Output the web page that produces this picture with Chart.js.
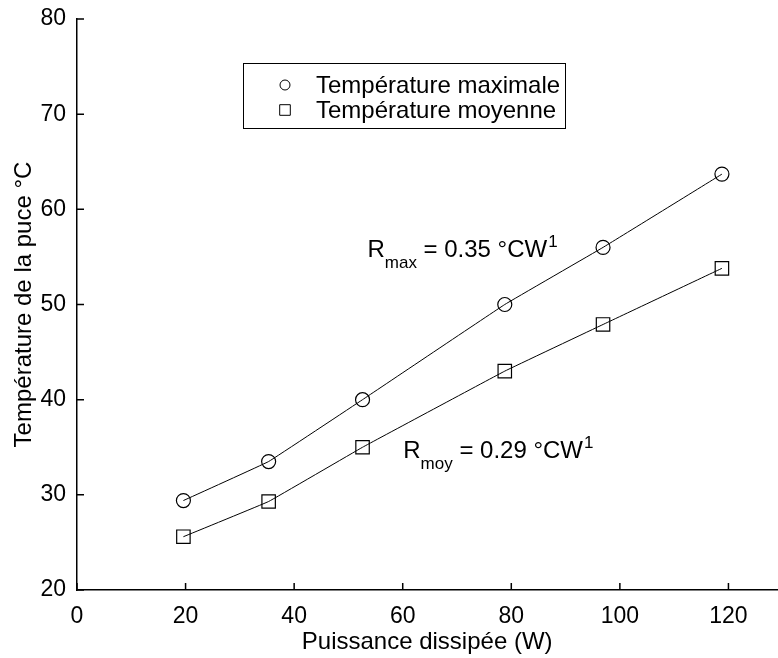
<!DOCTYPE html>
<html>
<head>
<meta charset="utf-8">
<script src="https://cdn.jsdelivr.net/npm/chart.js@4.4.0/dist/chart.umd.min.js"></script>
<style>
  html, body { margin: 0; padding: 0; background: #fff; overflow: hidden; }
  #wrap { width: 778px; height: 658px; overflow: hidden; }
</style>
</head>
<body>
<div id="wrap"><canvas id="chart" width="788" height="658"></canvas></div>
<script>
// ---- data ----
const puissance = [19.6, 35.3, 52.6, 78.8, 96.9, 118.8];
const tempMax   = [29.4, 33.5, 40.0, 50.0, 56.0, 63.7];
const tempMoy   = [25.6, 29.3, 35.0, 43.0, 47.9, 53.8];
const xTicks    = [0, 20, 40, 60, 80, 100, 120];
const yTicks    = [20, 30, 40, 50, 60, 70, 80];
const serieLabels = ['Température maximale', 'Température moyenne'];
const rLabels   = [['max', ' = 0.35 °CW', '1'], ['moy', ' = 0.29 °CW', '1']];

const FONT = "'Liberation Sans', Arial, sans-serif";

function toPoints(xs, ys) { return xs.map((x, i) => ({ x: x, y: ys[i] })); }

// ticks drawn inward, like the original plot
const inwardTicks = {
  id: 'inwardTicks',
  afterDraw(chart) {
    const { ctx, chartArea: a, scales: { x, y } } = chart;
    ctx.save();
    ctx.strokeStyle = '#000';
    ctx.lineWidth = 1.5;
    ctx.beginPath();
    xTicks.forEach(v => { const p = x.getPixelForValue(v); ctx.moveTo(p, a.bottom); ctx.lineTo(p, a.bottom - 7); });
    yTicks.forEach(v => { const p = y.getPixelForValue(v); ctx.moveTo(a.left, p); ctx.lineTo(a.left + 7, p); });
    ctx.stroke();
    ctx.restore();
  }
};

// boxed legend in the upper part of the plot
const boxLegend = {
  id: 'boxLegend',
  afterDraw(chart) {
    const ctx = chart.ctx;
    ctx.save();
    ctx.strokeStyle = '#000';
    ctx.lineWidth = 1;
    ctx.strokeRect(243.5, 63.5, 322, 65);
    ctx.textBaseline = 'middle';
    chart.data.datasets.forEach((ds, i) => {
      const yy = 85 + i * 25;
      ctx.fillStyle = '#fff';
      Chart.helpers.drawPoint(ctx, {
        pointStyle: ds.pointStyle, radius: i === 0 ? 5 : 7.5, borderWidth: 1
      }, 285, yy);
      ctx.font = '24px ' + FONT;
      ctx.fillStyle = '#000';
      ctx.fillText(ds.label, 316, yy + 1);
    });
    ctx.restore();
  }
};

// "R_max = ..." / "R_moy = ..." labels next to the lines
const rAnnot = {
  id: 'rAnnot',
  afterDraw(chart) {
    const { ctx, scales: { x, y } } = chart;
    const spots = [[53.5, 55.0], [60.1, 33.9]];
    ctx.save();
    ctx.fillStyle = '#000';
    ctx.textBaseline = 'alphabetic';
    rLabels.forEach((lab, i) => {
      let px = x.getPixelForValue(spots[i][0]);
      const py = y.getPixelForValue(spots[i][1]);
      ctx.font = '24px ' + FONT;
      ctx.fillText('R', px, py);
      px += ctx.measureText('R').width;
      ctx.font = '17px ' + FONT;
      ctx.fillText(lab[0], px, py + 11);
      px += ctx.measureText(lab[0]).width;
      ctx.font = '24px ' + FONT;
      ctx.fillText(lab[1], px, py);
      px += ctx.measureText(lab[1]).width;
      ctx.font = '17px ' + FONT;
      ctx.fillText(lab[2], px + 1, py - 10);
    });
    ctx.restore();
  }
};

const common = {
  borderColor: '#000',
  borderWidth: 1,
  backgroundColor: 'transparent',
  pointBorderColor: '#000',
  pointBackgroundColor: 'transparent',
  pointBorderWidth: 1.2,
  showLine: true,
  tension: 0.05,
};

new Chart(document.getElementById('chart'), {
  type: 'scatter',
  data: {
    datasets: [
      Object.assign({ label: serieLabels[0], data: toPoints(puissance, tempMax), pointStyle: 'circle', pointRadius: 7 }, common),
      Object.assign({ label: serieLabels[1], data: toPoints(puissance, tempMoy), pointStyle: 'rect', pointRadius: 9.5 }, common),
    ]
  },
  options: {
    responsive: false,
    animation: false,
    devicePixelRatio: 1,
    layout: { padding: { top: 19, right: 1, left: 0, bottom: 0 } },
    plugins: { legend: { display: false }, tooltip: { enabled: false } },
    scales: {
      x: {
        type: 'linear', min: 0, max: 129,
        afterBuildTicks: s => { s.ticks = xTicks.map(v => ({ value: v })); },
        afterFit: s => { s.height = 68; },
        grid: { display: false },
        border: { color: '#000', width: 1.5 },
        ticks: { color: '#000', font: { family: FONT, size: 23 }, padding: 5, maxRotation: 0 },
        title: { display: true, text: 'Puissance dissipée (W)', color: '#000',
                 font: { family: FONT, size: 24 }, padding: { top: 0, bottom: 1 } }
      },
      y: {
        min: 20, max: 80,
        afterBuildTicks: s => { s.ticks = yTicks.map(v => ({ value: v })); },
        afterFit: s => { s.width = 77; },
        grid: { display: false },
        border: { color: '#000', width: 1.5 },
        ticks: { color: '#000', font: { family: FONT, size: 23 }, padding: 3 },
        title: { display: true, text: 'Température de la puce °C', color: '#000',
                 font: { family: FONT, size: 24 }, padding: { top: 10, bottom: 0 } }
      }
    }
  },
  plugins: [inwardTicks, boxLegend, rAnnot]
});
</script>
</body>
</html>
